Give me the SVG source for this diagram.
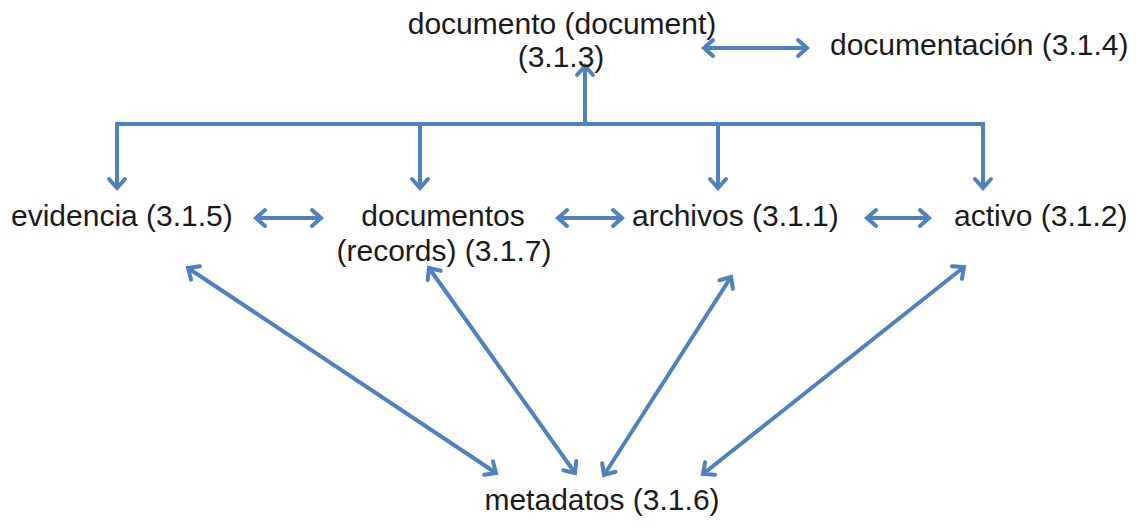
<svg xmlns="http://www.w3.org/2000/svg" width="1143" height="532" viewBox="0 0 1143 532">
<style>
.t{font-family:"Liberation Sans",Arial,sans-serif;font-size:30px;fill:#1a1a1a}
.c{fill:none;stroke:#4F81BD;stroke-width:4}
.m{marker-end:url(#ah)}
.b{marker-start:url(#ah);marker-end:url(#ah)}
</style>
<defs>
<marker id="ah" viewBox="-14 -11 18 22" markerWidth="18" markerHeight="22" refX="0" refY="0" markerUnits="userSpaceOnUse" orient="auto-start-reverse">
<path d="M-9,-8 L0,0 L-9,8" fill="none" stroke="#4F81BD" stroke-width="4" stroke-linecap="round"/>
</marker>
</defs>
<rect width="1143" height="532" fill="#ffffff"/>
<g id="connectors">
<path class="c b" d="M117,188 V124 H983 V188"/>
<line class="c m" x1="420" y1="124" x2="420" y2="188"/>
<line class="c m" x1="718" y1="124" x2="718" y2="188"/>
<line class="c m" x1="585" y1="124" x2="585" y2="66"/>
<line class="c b" x1="704" y1="48" x2="807" y2="48"/>
<line class="c b" x1="256" y1="218" x2="321" y2="218"/>
<line class="c b" x1="558" y1="218" x2="622" y2="218"/>
<line class="c b" x1="867" y1="218" x2="929" y2="218"/>
<line class="c b" x1="188" y1="268" x2="496" y2="473"/>
<line class="c b" x1="429" y1="268" x2="575" y2="473"/>
<line class="c b" x1="731" y1="277" x2="604" y2="475"/>
<line class="c b" x1="964" y1="267" x2="703" y2="474"/>
</g>
<g id="documento"><text class="t" x="562" y="34" text-anchor="middle">documento (document)</text><text class="t" x="561" y="67" text-anchor="middle">(3.1.3)</text></g>
<g id="documentacion"><text class="t" x="830" y="55">documentación (3.1.4)</text></g>
<g id="evidencia"><text class="t" x="11" y="226">evidencia (3.1.5)</text></g>
<g id="documentos"><text class="t" x="443" y="226" text-anchor="middle">documentos</text><text class="t" x="444" y="261" text-anchor="middle">(records) (3.1.7)</text></g>
<g id="archivos"><text class="t" x="632" y="226">archivos (3.1.1)</text></g>
<g id="activo"><text class="t" x="954" y="226">activo (3.1.2)</text></g>
<g id="metadatos"><text class="t" x="602" y="510" text-anchor="middle">metadatos (3.1.6)</text></g>
</svg>
